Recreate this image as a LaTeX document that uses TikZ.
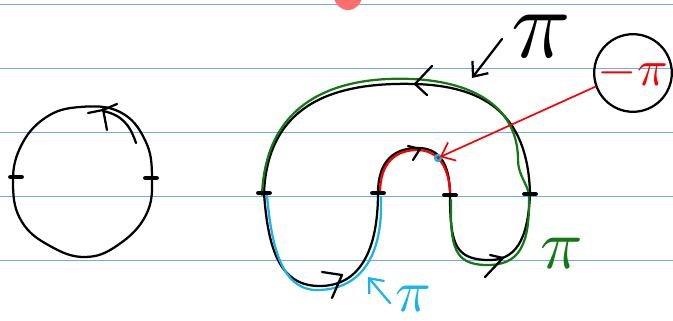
\documentclass[tikz,border=0pt]{standalone}
\usepackage{xcolor}
\usetikzlibrary{arrows.meta, calc}

\definecolor{ruleblue}{RGB}{110,170,250}
\definecolor{dotred}{RGB}{250,110,110}
\definecolor{pengreen}{RGB}{20,120,20}
\definecolor{penblue}{RGB}{25,180,235}
\definecolor{penred}{RGB}{250,0,0}

\tikzset{
  pen/.style={line width=1.6pt, line cap=round, line join=round},
  thinpen/.style={line width=1.2pt, line cap=round, line join=round},
  tickmark/.style={line width=3.2pt, line cap=round},
  ruling/.style={ruleblue, line width=1.2pt},
}

\begin{document}
\begin{tikzpicture}[x=0.025cm, y=-0.025cm, >={Straight Barb[length=3mm, width=5mm]}]
  \useasboundingbox (0,0) rectangle (673,321);
  % ruled paper
  \foreach \ly in {4.5,68.5,132.5,196.5,260.5}
    \draw[ruling] (0,\ly) -- (673,\ly);
  \fill[dotred] (348,-4) circle (14);

  % left circle
  \draw[pen] plot[smooth cycle, tension=0.7] coordinates {(80,107) (120,112) (145,140) (152,177) (146,215) (118,245) (85,257) (50,246) (22,222) (13,186) (20,148) (45,118)};
  \coordinate (circW) at (16,177);
  \coordinate (circE) at (151,178);
  \draw[tickmark] ([xshift=-4pt]circW) -- ([xshift=4pt]circW);
  \draw[tickmark] ([xshift=-4pt]circE) -- ([xshift=4pt]circE);
  \draw[pen] (88,113) -- (103,110) -- (117,104);
  \draw[pen] (103,109) -- (107,130);
  \draw[pen] (103,111) .. controls (122,115) and (130,125) .. (136,143);

  % the four points on the line
  \coordinate (ptA) at (264,193);
  \coordinate (ptB) at (378,193);
  \coordinate (ptC) at (450,195);
  \coordinate (ptD) at (530,194);

  % black curves
  \draw[pen] (ptA) .. controls (268,100) and (340,82) .. (415,84)
                   .. controls (480,86) and (528,110) .. (ptD);
  \draw[pen] (ptA) .. controls (268,250) and (280,285) .. (318,286)
                   .. controls (360,287) and (378,250) .. (ptB);
  \draw[pen] (ptB) .. controls (378,160) and (395,148) .. (418,148)
                   .. controls (440,148) and (450,165) .. (ptC);
  \draw[pen] (ptC) .. controls (450,245) and (456,258) .. (485,260)
                   .. controls (516,262) and (528,240) .. (ptD);

  % coloured overlays
  \draw[pen, pengreen] (262,195) .. controls (266,98) and (340,76) .. (412,79)
                       .. controls (478,82) and (518,110) .. (518,160)
                       .. controls (518,175) and (528,185) .. (529,195);
  \draw[pen, pengreen] (451,200) .. controls (450,248) and (455,264) .. (485,265)
                       .. controls (520,266) and (530,245) .. (529,195);
  \draw[pen, penblue] (267,195) .. controls (272,255) and (285,292) .. (320,290)
                      .. controls (362,288) and (383,255) .. (381,197);
  \draw[pen, penred] (380,193) .. controls (380,162) and (396,151) .. (415,150)
                     .. controls (440,149) and (449,170) .. (450,192);

  % ticks
  \foreach \p in {ptA,ptB,ptC,ptD}
    \draw[tickmark] ([xshift=-4pt]\p) -- ([xshift=4pt]\p);

  % direction marks
  \draw[pen] (432,66) -- (415,84) -- (427,95);
  \draw[pen] (408,146) -- (420,149) -- (413,160);
  \draw[pen] (322,272) -- (342,275) -- (332,298);
  \draw[pen] (490,255) -- (503,258) -- (485,277);

  % labels
  \node (piTop) at (541,36) {\scalebox{7}{$\pi$}};
  \coordinate (arcTop) at (472,78);
  \draw[pen, ->] (502,39) -- (arcTop);

  \node[draw, circle, pen, minimum size=1.8cm, inner sep=0pt] (negPi) at (633,73) {\color{penred}\scalebox{3.6}{$-\pi$}};
  \draw[pen, penblue] (438,158) circle (3);
  \coordinate (dotPt) at (440,157);
  \draw[thinpen, penred, ->] (negPi.200) -- (dotPt);

  \node (piBlue) at (413,299) {\color{penblue}\scalebox{4.2}{$\pi$}};
  \coordinate (loopBot) at (368,277);
  \draw[pen, penblue, ->] (390,303) -- (loopBot);

  \node (piGreen) at (562,253) {\color{pengreen}\scalebox{5}{$\pi$}};
\end{tikzpicture}
\end{document}
